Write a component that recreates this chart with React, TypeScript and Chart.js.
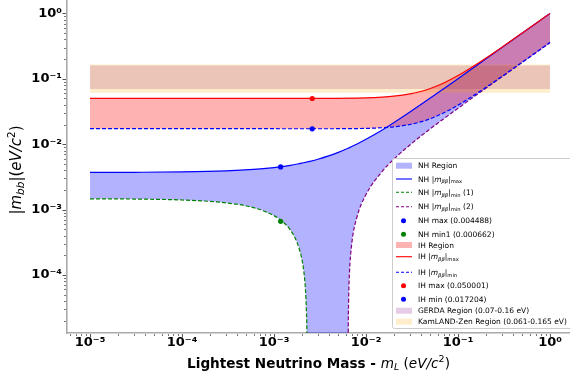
import React, { useEffect, useRef } from 'react';
import { Chart, registerables } from 'chart.js';
Chart.register(...registerables);

const FONT = "'DejaVu Sans', sans-serif";

// ---- Normal hierarchy (NH) ----
const nhMass = [1e-5, 3e-5, 1e-4, 3e-4, 6e-4, 1e-3, 1.2e-3, 1.5e-3, 1.8e-3, 2e-3, 2.1e-3, 2.2e-3, 2.25e-3, 2.29e-3, 2.3e-3, 3e-3, 4e-3, 5e-3, 6.3e-3, 6.4e-3, 6.45e-3, 6.5e-3, 6.6e-3, 7e-3, 8e-3, 1e-2, 1.5e-2, 2e-2, 3e-2, 5e-2, 7e-2, 0.1, 0.15, 0.2, 0.3, 0.5, 0.7, 1];
const nhMax = [0.003707, 0.00372, 0.003768, 0.003905, 0.004114, 0.004397, 0.00454, 0.004758, 0.004978, 0.005127, 0.005202, 0.005277, 0.005315, 0.005345, 0.005353, 0.00589, 0.006682, 0.0075, 0.008598, 0.008684, 0.008727, 0.00877, 0.008856, 0.009203, 0.01008, 0.011876, 0.016519, 0.021287, 0.030991, 0.050674, 0.070503, 0.100355, 0.150226, 0.200153, 0.300069, 0.499978, 0.699916, 0.999828];
const nhLower = [0.001463, 0.00145, 0.001402, 0.001268, 0.001069, 0.000808, 0.00068, 0.00049, 0.000302, 0.000179, 0.000118, 0.0000572, 0.000027, 0.0000028, 1e-8, 1e-8, 1e-8, 1e-8, 1e-8, 0.0000071, 0.0000321, 0.0000569, 0.0001064, 0.000303, 0.0007835, 0.001704, 0.003851, 0.005874, 0.009749, 0.017226, 0.024557, 0.035445, 0.053474, 0.071447, 0.10733, 0.179022, 0.250684, 0.358172];
const nhMin1Mass = [1e-5, 3e-5, 1e-4, 3e-4, 6e-4, 1e-3, 1.2e-3, 1.5e-3, 1.8e-3, 2e-3, 2.1e-3, 2.2e-3, 2.25e-3, 2.29e-3, 2.3e-3];
const nhMin1 = [0.001463, 0.00145, 0.001402, 0.001268, 0.001069, 0.000808, 0.00068, 0.00049, 0.000302, 0.000179, 0.000118, 0.0000572, 0.000027, 0.0000028, 1e-8];
const nhMin2Mass = [6.38e-3, 6.4e-3, 6.45e-3, 6.5e-3, 6.6e-3, 7e-3, 8e-3, 1e-2, 1.5e-2, 2e-2, 3e-2, 5e-2, 7e-2, 0.1, 0.15, 0.2, 0.3, 0.5, 0.7, 1];
const nhMin2 = [1e-8, 0.0000071, 0.0000321, 0.0000569, 0.0001064, 0.000303, 0.0007835, 0.001704, 0.003851, 0.005874, 0.009749, 0.017226, 0.024557, 0.035445, 0.053474, 0.071447, 0.10733, 0.179022, 0.250684, 0.358172];

// ---- Inverted hierarchy (IH) ----
const ihMass = [1e-5, 1e-4, 1e-3, 3e-3, 1e-2, 1.5e-2, 2e-2, 3e-2, 4e-2, 5e-2, 7e-2, 0.1, 0.15, 0.2, 0.3, 0.5, 0.7, 1];
const ihMax = [0.050045, 0.050047, 0.050077, 0.050198, 0.051214, 0.052485, 0.054176, 0.058676, 0.064405, 0.071073, 0.086345, 0.112064, 0.158304, 0.206302, 0.304238, 0.502555, 0.701827, 1.0013];
const ihMin = [0.01726, 0.017258, 0.017242, 0.017231, 0.017452, 0.017844, 0.018417, 0.020024, 0.02212, 0.024573, 0.030178, 0.039552, 0.056283, 0.073573, 0.108758, 0.179881, 0.251299, 0.358591];

// ---- Marked points ----
const nhMaxPoint = [0.00118, 0.004488];
const nhMin1Point = [0.00118, 0.000662];
const ihMaxPoint = [0.0026, 0.050001];
const ihMinPoint = [0.0026, 0.017204];

// ---- Experimental bands ----
const bandMass = [1e-5, 1];
const gerdaRange = [0.07, 0.16];
const kamlandRange = [0.061, 0.165];

// ---- Axis ranges ----
const xRange = [5.62e-6, 1.648];
const yRange = [1.297e-5, 1.603];

const NH_FILL = 'rgba(0,0,255,0.3)';
const IH_FILL = 'rgba(255,0,0,0.3)';
const GERDA_FILL = 'rgba(128,0,128,0.2)';
const KAM_FILL = 'rgba(255,165,0,0.2)';

type Seg = [string, string];
const legendItems: { kind: string; color: string; dash?: number[]; label: Seg[] }[] = [
  { kind: 'patch', color: NH_FILL, label: [['NH Region', '']] },
  { kind: 'line', color: '#0000ff', label: [['NH |', ''], ['m', 'i'], ['ββ', 'i_'], ['|', ''], ['max', '_']] },
  { kind: 'line', color: '#008000', dash: [3, 2], label: [['NH |', ''], ['m', 'i'], ['ββ', 'i_'], ['|', ''], ['min', '_'], [' (1)', '']] },
  { kind: 'line', color: '#800080', dash: [3, 2], label: [['NH |', ''], ['m', 'i'], ['ββ', 'i_'], ['|', ''], ['min', '_'], [' (2)', '']] },
  { kind: 'dot', color: '#0000ff', label: [['NH max (0.004488)', '']] },
  { kind: 'dot', color: '#008000', label: [['NH min1 (0.000662)', '']] },
  { kind: 'patch', color: IH_FILL, label: [['IH Region', '']] },
  { kind: 'line', color: '#ff0000', label: [['IH |', ''], ['m', 'i'], ['ββ', 'i_'], ['|', ''], ['max', '_']] },
  { kind: 'line', color: '#0000ff', dash: [3, 2], label: [['IH |', ''], ['m', 'i'], ['ββ', 'i_'], ['|', ''], ['min', '_']] },
  { kind: 'dot', color: '#ff0000', label: [['IH max (0.050001)', '']] },
  { kind: 'dot', color: '#0000ff', label: [['IH min (0.017204)', '']] },
  { kind: 'patch', color: GERDA_FILL, label: [['GERDA Region (0.07-0.16 eV)', '']] },
  { kind: 'patch', color: KAM_FILL, label: [['KamLAND-Zen Region (0.061-0.165 eV)', '']] },
];
const xTitle: Seg[] = [['Lightest Neutrino Mass - ', 'b'], ['m', 'i'], ['L', 'i_'], [' (', ''], ['eV/c', 'i'], ['2', '^'], [')', '']];
const yTitle: Seg[] = [['|', ''], ['m', 'i'], ['bb', 'i_'], ['|(', ''], ['eV/c', 'i'], ['2', '^'], [')', '']];

const SUP: Record<string, string> = { '-': '⁻', '0': '⁰', '1': '¹', '2': '²', '3': '³', '4': '⁴', '5': '⁵', '6': '⁶', '7': '⁷', '8': '⁸', '9': '⁹' };
function isPow10(v: number) { const l = Math.log10(v); return Math.abs(l - Math.round(l)) < 1e-6; }
function powLabel(v: number) { const p = Math.round(Math.log10(v)); return '10' + String(p).split('').map(c => SUP[c]).join(''); }
function logTicks(min: number, max: number) {
  const out: { value: number; major: boolean }[] = [];
  for (let e = Math.floor(Math.log10(min)); e <= Math.ceil(Math.log10(max)); e++) {
    for (let m = 1; m <= 9; m++) { const v = m * Math.pow(10, e); if (v >= min && v <= max) out.push({ value: v, major: m === 1 }); }
  }
  return out;
}
function fontFor(style: string, size: number) {
  const small = style.includes('_') || style.includes('^');
  const sz = small ? size * 0.7 : size;
  return `${style.includes('i') ? 'italic ' : ''}${style.includes('b') ? 'bold ' : ''}${sz}px ${FONT}`;
}
function richWidth(ctx: CanvasRenderingContext2D, segs: Seg[], size: number) {
  let w = 0; for (const [t, s] of segs) { ctx.font = fontFor(s, size); w += ctx.measureText(t).width; } return w;
}
function drawRich(ctx: CanvasRenderingContext2D, segs: Seg[], x: number, y: number, size: number) {
  let cx = x;
  for (const [t, s] of segs) {
    ctx.font = fontFor(s, size);
    const dy = s.includes('_') ? size * 0.22 : s.includes('^') ? -size * 0.42 : 0;
    ctx.fillText(t, cx, y + dy);
    cx += ctx.measureText(t).width;
  }
}

const pts = (xs: number[], ys: number[]) => xs.map((x, i) => ({ x, y: ys[i] }));

const tickMarks = {
  id: 'tickMarks',
  afterDraw(chart: any) {
    const { ctx, chartArea } = chart;
    const xs = chart.scales.x, ys = chart.scales.y;
    ctx.save();
    ctx.strokeStyle = '#555';
    for (const t of xs.ticks) {
      const px = Math.round(xs.getPixelForValue(t.value)) + 0.5;
      const big = isPow10(t.value);
      ctx.lineWidth = big ? 1 : 0.8;
      ctx.beginPath(); ctx.moveTo(px, chartArea.bottom + 1); ctx.lineTo(px, chartArea.bottom + (big ? 4.5 : 3)); ctx.stroke();
    }
    for (const t of ys.ticks) {
      const py = Math.round(ys.getPixelForValue(t.value)) + 0.5;
      const big = isPow10(t.value);
      ctx.lineWidth = big ? 1 : 0.8;
      ctx.beginPath(); ctx.moveTo(chartArea.left - 1, py); ctx.lineTo(chartArea.left - (big ? 4.5 : 3), py); ctx.stroke();
    }
    ctx.restore();
  },
};

const titles = {
  id: 'titles',
  afterDraw(chart: any) {
    const { ctx, chartArea } = chart;
    ctx.save();
    ctx.fillStyle = '#000';
    ctx.textBaseline = 'alphabetic';
    ctx.textAlign = 'left';
    const xs = 13.6;
    const wx = richWidth(ctx, xTitle, xs);
    drawRich(ctx, xTitle, (chartArea.left + chartArea.right) / 2 - wx / 2, 367.5, xs);
    const ysz = 15;
    const wy = richWidth(ctx, yTitle, ysz);
    ctx.translate(21, 170);
    ctx.rotate(-Math.PI / 2);
    drawRich(ctx, yTitle, -wy / 2, 0, ysz);
    ctx.restore();
  },
};

const legendRowY = [165.7, 179, 192.3, 206.7, 220.7, 234.3, 245, 256.7, 272.3, 285.7, 299.3, 310.7, 321.7];
const legendPlugin = {
  id: 'customLegend',
  afterDraw(chart: any) {
    const { ctx } = chart;
    ctx.save();
    const bx = 392.5, by = 158.5, bw = 190, bh = 170;
    ctx.fillStyle = 'rgba(255,255,255,0.8)';
    ctx.strokeStyle = '#cccccc';
    ctx.lineWidth = 1;
    ctx.beginPath();
    ctx.roundRect(bx, by, bw, bh, 2);
    ctx.fill(); ctx.stroke();
    const fs = 7.5;
    legendItems.forEach((it, i) => {
      const y = legendRowY[i];
      if (it.kind === 'patch') {
        ctx.fillStyle = it.color; ctx.fillRect(396, y - 3, 16, 6);
      } else if (it.kind === 'line') {
        ctx.strokeStyle = it.color; ctx.lineWidth = 1.1; ctx.setLineDash(it.dash || []);
        ctx.beginPath(); ctx.moveTo(396, y); ctx.lineTo(412, y); ctx.stroke(); ctx.setLineDash([]);
      } else {
        ctx.fillStyle = it.color; ctx.beginPath(); ctx.arc(403.5, y, 2.5, 0, Math.PI * 2); ctx.fill();
      }
      ctx.fillStyle = '#000';
      ctx.textBaseline = 'alphabetic'; ctx.textAlign = 'left';
      drawRich(ctx, it.label, 418, y + 2.7, fs);
    });
    ctx.restore();
  },
};

export default function App() {
  const ref = useRef<HTMLCanvasElement>(null);
  useEffect(() => {
    if (!ref.current) return;
    const tickFont = { family: FONT, size: 13, weight: 'bold' as const };
    const chart = new Chart(ref.current, {
      type: 'line',
      data: {
        datasets: [
          { label: 'KamLAND-Zen Region', data: pts(bandMass, [kamlandRange[1], kamlandRange[1]]), fill: { value: kamlandRange[0] }, backgroundColor: KAM_FILL, borderWidth: 0, pointRadius: 0 },
          { label: 'GERDA Region', data: pts(bandMass, [gerdaRange[1], gerdaRange[1]]), fill: { value: gerdaRange[0] }, backgroundColor: GERDA_FILL, borderWidth: 0, pointRadius: 0 },
          { label: 'IH max', data: pts(ihMass, ihMax), fill: 3, backgroundColor: IH_FILL, borderColor: '#ff0000', borderWidth: 1.2, pointRadius: 0, cubicInterpolationMode: 'monotone' },
          { label: 'IH min', data: pts(ihMass, ihMin), fill: false, borderColor: '#0000ff', borderDash: [4, 2], borderWidth: 1.2, pointRadius: 0, cubicInterpolationMode: 'monotone' },
          { label: 'NH max', data: pts(nhMass, nhMax), fill: 5, backgroundColor: NH_FILL, borderColor: '#0000ff', borderWidth: 1.2, pointRadius: 0, cubicInterpolationMode: 'monotone' },
          { label: 'NH lower', data: pts(nhMass, nhLower), fill: false, borderWidth: 0, pointRadius: 0, cubicInterpolationMode: 'monotone' },
          { label: 'NH min1', data: pts(nhMin1Mass, nhMin1), fill: false, borderColor: '#008000', borderDash: [4, 2], borderWidth: 1.2, pointRadius: 0, cubicInterpolationMode: 'monotone' },
          { label: 'NH min2', data: pts(nhMin2Mass, nhMin2), fill: false, borderColor: '#800080', borderDash: [4, 2], borderWidth: 1.2, pointRadius: 0, cubicInterpolationMode: 'monotone' },
          { label: 'NH max pt', data: [{ x: nhMaxPoint[0], y: nhMaxPoint[1] }], showLine: false, pointRadius: 2.6, pointBackgroundColor: '#0000ff', pointBorderWidth: 0, order: -1 },
          { label: 'NH min1 pt', data: [{ x: nhMin1Point[0], y: nhMin1Point[1] }], showLine: false, pointRadius: 2.6, pointBackgroundColor: '#008000', pointBorderWidth: 0, order: -1 },
          { label: 'IH max pt', data: [{ x: ihMaxPoint[0], y: ihMaxPoint[1] }], showLine: false, pointRadius: 2.6, pointBackgroundColor: '#ff0000', pointBorderWidth: 0, order: -1 },
          { label: 'IH min pt', data: [{ x: ihMinPoint[0], y: ihMinPoint[1] }], showLine: false, pointRadius: 2.6, pointBackgroundColor: '#0000ff', pointBorderWidth: 0, order: -1 },
        ] as any,
      },
      options: {
        animation: false,
        responsive: false,
        layout: { padding: 0, autoPadding: false },
        plugins: { legend: { display: false }, tooltip: { enabled: false }, filler: { drawTime: 'beforeDatasetsDraw' } as any },
        scales: {
          x: {
            type: 'logarithmic', min: xRange[0], max: xRange[1], bounds: 'data',
            grid: { display: false, drawTicks: false },
            border: { display: true, color: '#aaaaaa', width: 1.6 },
            ticks: { autoSkip: false, maxRotation: 0, minRotation: 0, padding: 2, font: tickFont, color: '#000', callback: (v: any) => (isPow10(Number(v)) ? powLabel(Number(v)) : '') },
            afterBuildTicks: (s: any) => { s.ticks = logTicks(s.min, s.max); },
            afterFit: (s: any) => { s.height = 46; s.paddingLeft = 0; s.paddingRight = 0; },
          },
          y: {
            type: 'logarithmic', min: yRange[0], max: yRange[1], bounds: 'data',
            grid: { display: false, drawTicks: false },
            border: { display: true, color: '#aaaaaa', width: 1.6 },
            ticks: { autoSkip: false, padding: 5, font: tickFont, color: '#000', callback: (v: any) => (isPow10(Number(v)) ? powLabel(Number(v)) : '') },
            afterBuildTicks: (s: any) => { s.ticks = logTicks(s.min, s.max); },
            afterFit: (s: any) => { s.width = 67; s.paddingTop = 0; s.paddingBottom = 0; },
          },
        },
      } as any,
      plugins: [tickMarks, titles, legendPlugin],
    });
    return () => chart.destroy();
  }, []);
  return (
    <div style={{ position: 'absolute', left: 0, top: 0, width: 570, height: 379, background: '#fff' }}>
      <canvas ref={ref} width={570} height={379} style={{ display: 'block' }} />
    </div>
  );
}
